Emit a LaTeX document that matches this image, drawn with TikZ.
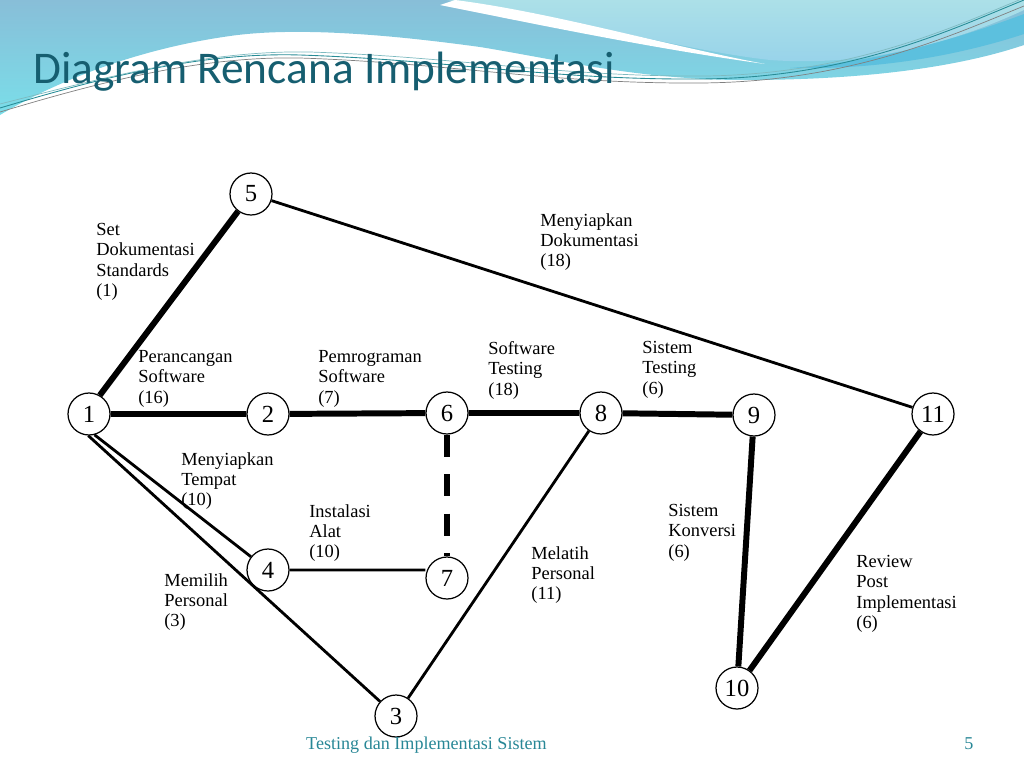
\documentclass[tikz,border=0pt]{standalone}
\usepackage{fontspec}
\setmainfont{Liberation Serif}
\newfontfamily\judulfont{Carlito}
\definecolor{judul}{RGB}{22,94,112}
\definecolor{kaki}{RGB}{40,135,150}
\definecolor{langitA}{RGB}{136,190,216}
\definecolor{langitB}{RGB}{122,222,233}
\definecolor{mudaA}{RGB}{172,224,232}
\definecolor{mudaB}{RGB}{150,210,234}
\definecolor{biru}{RGB}{92,192,222}
\definecolor{garisA}{RGB}{40,140,150}
\usetikzlibrary{calc}
\tikzset{
  simpul/.style={circle,draw,line width=.7pt,fill=white,minimum size=.84cm,inner sep=0pt,font=\fontsize{14}{14}\selectfont},
  ket/.style={anchor=north west,align=left,inner sep=0pt,font=\fontsize{10.5}{11.6}\selectfont},
  tebal/.style={line width=3.4pt},
  tipis/.style={line width=1.6pt},
  putus/.style={line width=3pt,dash pattern=on 12.5pt off 10pt}
}
\begin{document}
\begin{tikzpicture}[x=.02cm,y=-.02cm]
\useasboundingbox (0,0) rectangle (1024,768);
\shade[top color=langitA,bottom color=langitB] (0,0)--(1024,0)--(1024,45) .. controls (950,70) and (850,80) .. (745,80) .. controls (640,80) and (560,60) .. (480,47) .. controls (400,36) and (300,26) .. (230,36) .. controls (130,50) and (50,85) .. (0,115)--cycle;
\shade[top color=mudaA,bottom color=mudaB] (447,0) .. controls (560,15) and (680,50) .. (770,60) .. controls (880,68) and (970,35) .. (1024,10)--(1024,0)--cycle;
\fill[white] (440,5) .. controls (540,25) and (650,48) .. (765,64) .. controls (660,44) and (550,12) .. (455,0)--cycle;
\fill[biru] (790,68) .. controls (880,62) and (960,38) .. (1024,14)--(1024,34) .. controls (960,55) and (880,70) .. (790,68)--cycle;
\draw[garisA,line width=.5pt] (0,108) .. controls (100,78) and (200,52) .. (300,55) .. controls (450,60) and (550,80) .. (700,79) .. controls (850,78) and (950,30) .. (1024,0);
\draw[gray,line width=.4pt] (0,112) .. controls (100,82) and (200,56) .. (300,58) .. controls (450,63) and (550,84) .. (700,83) .. controls (850,82) and (950,36) .. (1024,6);
\draw[garisA!60,line width=.4pt] (0,104) .. controls (110,76) and (210,50) .. (310,52) .. controls (460,57) and (560,77) .. (705,76) .. controls (855,74) and (955,26) .. (1024,-2);
\node[anchor=base west,text=judul,font=\judulfont\fontsize{25.8}{26}\selectfont] (judul) at (27,83) {Diagram Rencana Implementasi};

\node[simpul] (n1) at (89,414) {1};
\node[simpul] (n2) at (268,414) {2};
\node[simpul] (n5) at (251,194) {5};
\node[simpul] (n6) at (447,413) {6};
\node[simpul] (n8) at (601,413) {8};
\node[simpul] (n9) at (754,415) {9};
\node[simpul] (n11) at (933,414) {11};
\node[simpul] (n4) at (268,570) {4};
\node[simpul] (n7) at (447,578) {7};
\node[simpul] (n3) at (396,716) {3};
\node[simpul] (n10) at (737,688) {10};

\draw[tebal] (n1.60)--(n5) (n1)--(n2) (n2)--(n6) (n6)--(n8) (n8)--(n9) (n9)--(n10) (n10)--(n11);
\draw[tipis] (n5)--(n11) (n1.-75)--(n4) (n1.-92)--(n3) (n4.east)--(n4.east-|n7.west) (n3)--(n8);
\draw[putus] (n6)--(n7);

\node[ket] (setdok) at (96,223) {Set\\Dokumentasi\\Standards\\(1)};
\node[ket] (siapdok) at (540,213) {Menyiapkan\\Dokumentasi\\(18)};
\node[ket] (rancang) at (138,350) {Perancangan\\Software\\(16)};
\node[ket] (program) at (318,350) {Pemrograman\\Software\\(7)};
\node[ket] (softtest) at (488,341) {Software\\Testing\\(18)};
\node[ket] (sistest) at (642,341) {Sistem\\Testing\\(6)};
\node[ket] (tempat) at (181,452) {Menyiapkan\\Tempat\\(10)};
\node[ket] (alat) at (309,504) {Instalasi\\Alat\\(10)};
\node[ket] (pilih) at (164,573) {Memilih\\Personal\\(3)};
\node[ket] (latih) at (531,546) {Melatih\\Personal\\(11)};
\node[ket] (konversi) at (668,504) {Sistem\\Konversi\\(6)};
\node[ket] (review) at (856,555) {Review\\Post\\Implementasi\\(6)};

\node[anchor=base west,text=kaki,font=\fontsize{10.3}{12}\selectfont] (kaki) at (300,749) {Testing dan Implementasi Sistem};
\node[anchor=base,text=kaki,font=\fontsize{10.3}{12}\selectfont] (hal) at (969,749) {5};
\end{tikzpicture}
\end{document}
